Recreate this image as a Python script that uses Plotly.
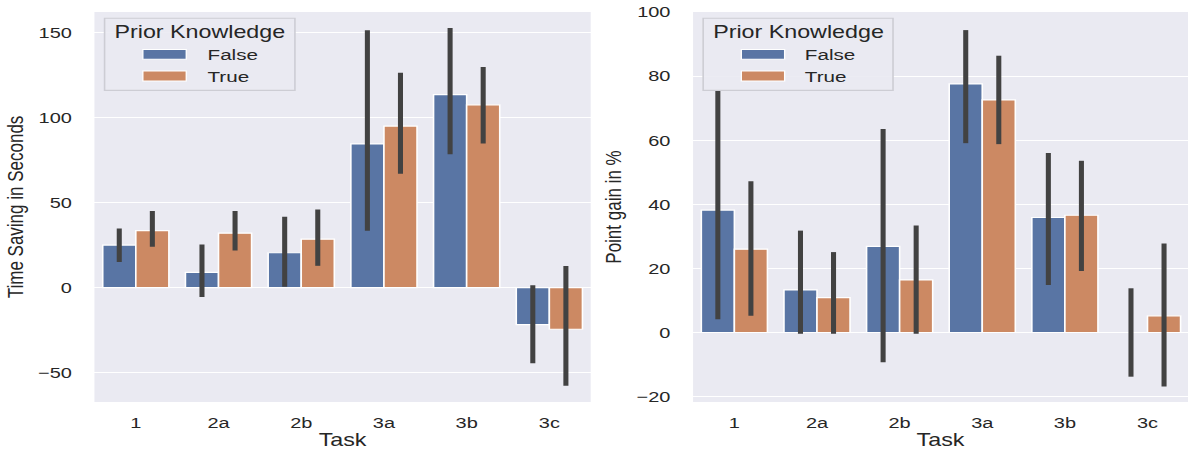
import plotly.graph_objects as go
from plotly.subplots import make_subplots

# ---------------- data ----------------
tasks = ["1", "2a", "2b", "3a", "3b", "3c"]
groups = ["False", "True"]

time_false = [25.0, 9.0, 20.5, 84.5, 113.5, -21.8]
time_false_lo = [15.0, -5.5, 0.5, 33.5, 78.5, -44.5]
time_false_hi = [34.7, 25.3, 41.6, 151.4, 152.7, 1.4]
time_true = [33.5, 32.0, 28.5, 95.0, 107.5, -24.5]
time_true_lo = [24.0, 21.8, 12.8, 67.0, 84.7, -57.8]
time_true_hi = [45.0, 45.0, 46.0, 126.3, 129.8, 12.7]

gain_false = [38.2, 13.3, 26.9, 77.6, 35.9, 0.0]
gain_false_lo = [4.1, -0.4, -9.3, 59.1, 14.8, -13.8]
gain_false_hi = [75.5, 31.8, 63.5, 94.4, 56.0, 13.8]
gain_true = [26.0, 10.9, 16.4, 72.6, 36.6, 5.2]
gain_true_lo = [5.2, -0.4, -0.4, 58.8, 19.2, -16.9]
gain_true_hi = [47.2, 25.1, 33.4, 86.4, 53.6, 27.8]

left_ticks = [-50, 0, 50, 100, 150]
right_ticks = [-20, 0, 20, 40, 60, 80, 100]

# ---------------- style ----------------
BLUE = "#5975A4"
ORANGE = "#CC8963"
ERR = "#424242"
BG = "#EAEAF2"
TXT = "#262626"
FONT = "Liberation Sans, Arial, sans-serif"
STRETCH = 1188 / 893.0  # reference is horizontally stretched

fig = make_subplots(rows=1, cols=2, horizontal_spacing=0.0)


def add_bars(col, name, vals, lo, hi, color):
    fig.add_trace(
        go.Bar(
            x=tasks,
            y=vals,
            name=name,
            marker=dict(color=color, line=dict(color="white", width=1.2)),
            error_y=dict(
                type="data",
                symmetric=False,
                array=[h - v for h, v in zip(hi, vals)],
                arrayminus=[v - l for v, l in zip(vals, lo)],
                color=ERR,
                thickness=3.8,
                width=0,
            ),
            showlegend=False,
        ),
        row=1,
        col=col,
    )


add_bars(1, "False", time_false, time_false_lo, time_false_hi, BLUE)
add_bars(1, "True", time_true, time_true_lo, time_true_hi, ORANGE)
add_bars(2, "False", gain_false, gain_false_lo, gain_false_hi, BLUE)
add_bars(2, "True", gain_true, gain_true_lo, gain_true_hi, ORANGE)

fig.update_layout(
    width=893,
    height=450,
    margin=dict(l=71, r=0, t=12, b=48),
    paper_bgcolor="white",
    plot_bgcolor=BG,
    barmode="group",
    bargap=0.2,
    bargroupgap=0.0,
    font=dict(family=FONT, color=TXT, size=15),
    showlegend=False,
)

xcommon = dict(
    showgrid=False,
    zeroline=False,
    showline=False,
    ticks="",
    ticklabelstandoff=10,
    tickfont=dict(size=15, color=TXT),
    title=dict(text="Task", font=dict(size=17.5, color=TXT), standoff=6),
)
fig.update_xaxes(domain=[0.0, 0.4538], range=[-0.5, 5.5], row=1, col=1, **xcommon)
fig.update_xaxes(domain=[0.5474, 1.0], range=[-0.5, 5.49], row=1, col=2, **xcommon)

ycommon = dict(
    showgrid=True,
    gridcolor="white",
    gridwidth=1.3,
    zeroline=False,
    showline=False,
    ticks="",
    ticklabelstandoff=16,
    tickfont=dict(size=15, color=TXT),
)
fig.update_yaxes(
    range=[-67.3, 162.1],
    tickvals=left_ticks,
    title=dict(text="Time Saving in Seconds", font=dict(size=17, color=TXT), standoff=6),
    row=1,
    col=1,
    **ycommon,
)
fig.update_yaxes(
    range=[-21.7, 100.05],
    tickvals=right_ticks,
    title=dict(text="Point gain in %", font=dict(size=17, color=TXT), standoff=6),
    row=1,
    col=2,
    **ycommon,
)

# ---------------- legends (one per panel) ----------------
for xa, ya in [("x", "y"), ("x2", "y2")]:
    xr, yr = xa + " domain", ya + " domain"
    fig.add_shape(
        type="rect", xref=xr, yref=yr, x0=0.0204, x1=0.404, y0=0.799, y1=0.984,
        fillcolor="rgba(234,234,242,0.9)", line=dict(color="#CDCDD4", width=1.2), layer="above",
    )
    fig.add_shape(
        type="rect", xref=xr, yref=yr, x0=0.0975, x1=0.185, y0=0.8787, y1=0.9036,
        fillcolor=BLUE, line=dict(color="white", width=1), layer="above",
    )
    fig.add_shape(
        type="rect", xref=xr, yref=yr, x0=0.0975, x1=0.185, y0=0.8231, y1=0.8487,
        fillcolor=ORANGE, line=dict(color="white", width=1), layer="above",
    )
    fig.add_annotation(
        xref=xr, yref=yr, x=0.212, y=0.95, text="Prior Knowledge", showarrow=False,
        xanchor="center", yanchor="middle", font=dict(size=17.5, color=TXT),
    )
    for label, yy in zip(groups, [0.8915, 0.835]):
        fig.add_annotation(
            xref=xr, yref=yr, x=0.2218, y=yy, text=label, showarrow=False,
            xanchor="left", yanchor="middle", font=dict(size=15.5, color=TXT),
        )

post = (
    "document.body.style.margin='0';document.body.style.overflow='hidden';"
    "var d=document.getElementById('{plot_id}');"
    "d.style.transformOrigin='0 0';d.style.transform='scaleX(%.5f)';" % STRETCH
)
fig.write_html("out.html", include_plotlyjs=True, full_html=True, post_script=post)
